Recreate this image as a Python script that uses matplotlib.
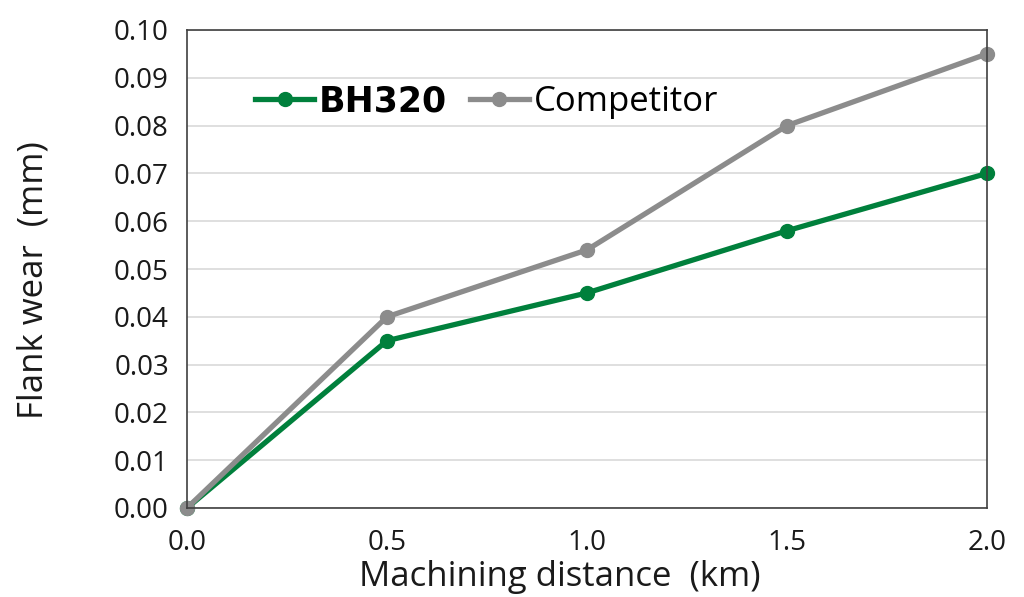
import matplotlib
matplotlib.use("Agg")
import matplotlib.pyplot as plt

plt.rcParams['font.family'] = ['Open Sans', 'DejaVu Sans']

distance = [0.0, 0.5, 1.0, 1.5, 2.0]
bh320 = [0.0, 0.035, 0.045, 0.058, 0.070]
competitor = [0.0, 0.040, 0.054, 0.080, 0.095]
xticks = [0.0, 0.5, 1.0, 1.5, 2.0]
yticks = [0.00, 0.01, 0.02, 0.03, 0.04, 0.05, 0.06, 0.07, 0.08, 0.09, 0.10]

fig = plt.figure(figsize=(10.24, 5.97), dpi=100)
ax = fig.add_axes([187/1024, 1-508/597, 800/1024, 478/597])

green = '#00803c'
grey = '#8c8c8c'
l1, = ax.plot(distance, bh320, color=green, lw=3.8, marker='o', ms=10, clip_on=False, zorder=3, label='BH320')
l2, = ax.plot(distance, competitor, color=grey, lw=3.8, marker='o', ms=10, clip_on=False, zorder=4, label='Competitor')

ax.set_xlim(0, 2.0)
ax.set_ylim(0, 0.10)
ax.set_xticks(xticks)
ax.set_xticklabels([f'{v:.1f}' for v in xticks])
ax.set_yticks(yticks)
ax.set_yticklabels([f'{v:.2f}' for v in yticks])
ax.tick_params(length=0, labelsize=20, colors='#1a1a1a')
ax.tick_params(axis='y', pad=13)
ax.tick_params(axis='x', pad=15)
ax.grid(axis='y', color='#d9d9d9', lw=1.2)
ax.set_axisbelow(True)
for s in ax.spines.values():
    s.set_color('#404040')
    s.set_linewidth(1.2)
    s.set_zorder(5)

ax.set_xlabel('Machining distance  (km)', fontsize=25, color='#1a1a1a', labelpad=2, x=0.466)
ax.set_ylabel('Flank wear  (mm)', fontsize=25, color='#1a1a1a', labelpad=46, y=0.477)

leg = ax.legend(handles=[l1, l2], loc='center left', bbox_to_anchor=(0.085, 0.85),
                ncol=2, frameon=False, fontsize=25, handlelength=1.7,
                handletextpad=0.15, columnspacing=0.65, borderpad=0, borderaxespad=0,
                markerscale=1.0)
t1, t2 = leg.get_texts()
t1.set_fontfamily('DejaVu Sans')
t1.set_fontweight('bold')

fig.savefig('out.png', dpi=100)
